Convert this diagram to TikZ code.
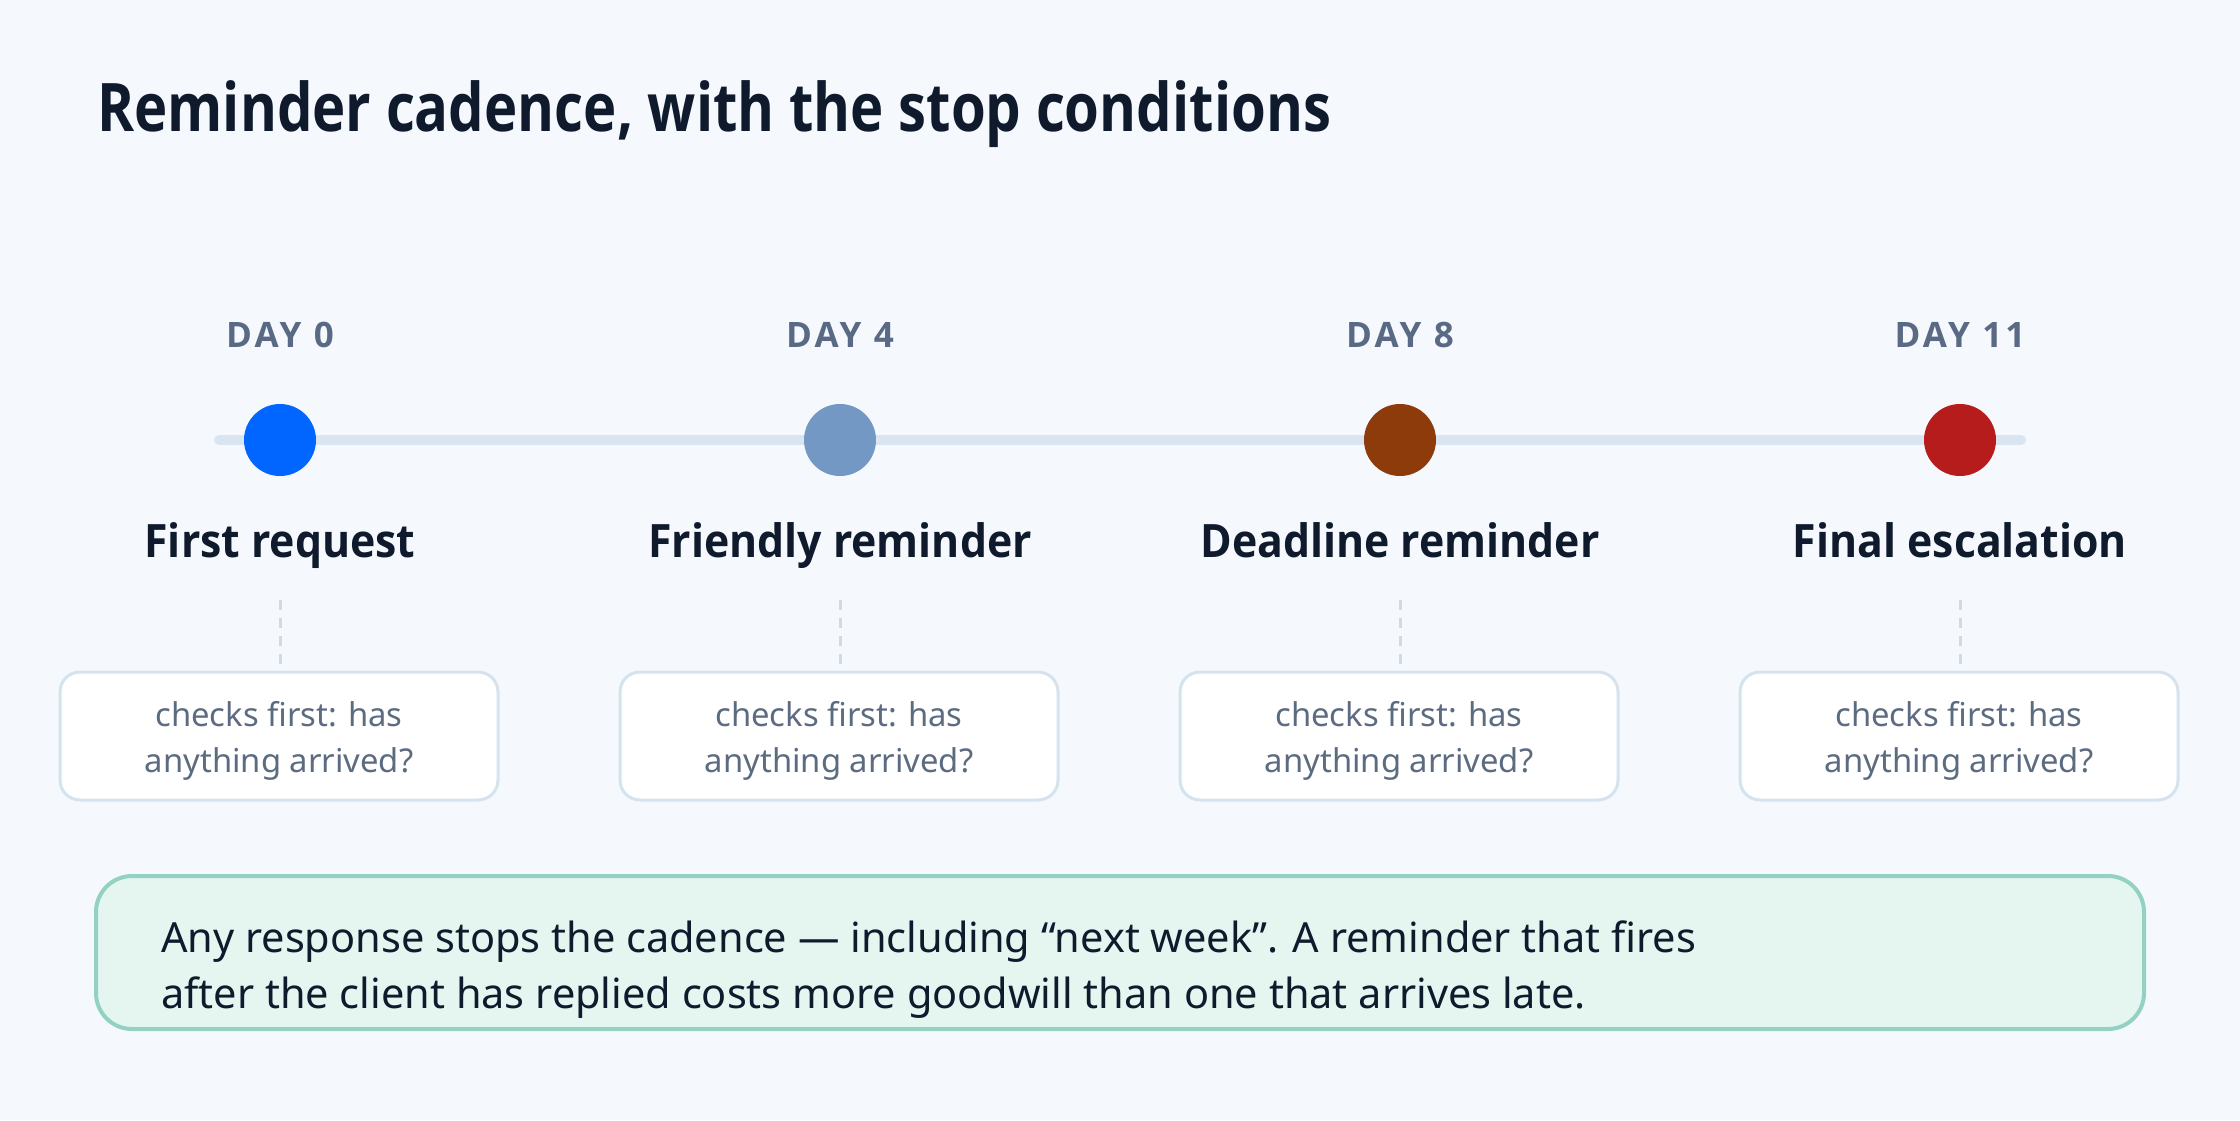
\documentclass[tikz,border=0pt]{standalone}
\usepackage{fontspec}
\setmainfont{Noto Sans}
\newfontfamily\headf{Open Sans}
\definecolor{bg}{HTML}{F5F9FE}
\definecolor{navy}{HTML}{0F1B2D}
\definecolor{daygray}{HTML}{5A6A85}
\definecolor{track}{HTML}{D9E6F2}
\definecolor{cA}{HTML}{0066FF}
\definecolor{cB}{HTML}{7398C4}
\definecolor{cC}{HTML}{8E3B0C}
\definecolor{cD}{HTML}{B71C1C}
\definecolor{boxline}{HTML}{D5E3EE}
\definecolor{boxtext}{HTML}{5B6B80}
\definecolor{dashc}{HTML}{CFDAE6}
\definecolor{tealline}{HTML}{93D2C2}
\definecolor{tealfill}{HTML}{E5F6F1}
\begin{document}
\begin{tikzpicture}[x=1pt,y=-1pt,
  dot/.style={circle,minimum size=72pt,inner sep=0pt},
  daylbl/.style={anchor=base,inner sep=0pt,text=daygray,font=\headf\bfseries\fontsize{35}{42}\selectfont\addfontfeatures{LetterSpace=9}},
  steptitle/.style={anchor=base,inner sep=0pt,text=navy,font=\headf\bfseries\fontsize{46}{55}\selectfont\addfontfeatures{FakeStretch=0.93}},
  checkbox/.style={draw=boxline,line width=3pt,fill=white,rounded corners=20pt,minimum width=438pt,minimum height=128pt,inner sep=0pt},
  checktext/.style={inner sep=0pt,align=center,text=boxtext,font=\fontsize{32.8}{46}\selectfont},
  connector/.style={draw=dashc,line width=3pt,dash pattern=on 10pt off 8pt}
]
\fill[bg] (0,0) rectangle (2240,1120);
\useasboundingbox (0,0) rectangle (2240,1120);

\node[anchor=base west,inner sep=0pt,text=navy,font=\headf\bfseries\fontsize{67}{80}\selectfont\addfontfeatures{FakeStretch=0.84}] (title) at (97,131) {Reminder cadence, with the stop conditions};

\coordinate (tl) at (219,440);
\coordinate (tr) at (2021,440);
\draw[track,line width=10pt,line cap=round] (tl) -- (tr);

\foreach \x/\c/\d/\t [count=\i] in {280/cA/DAY 0/First request, 840/cB/DAY 4/Friendly reminder, 1400/cC/DAY 8/Deadline reminder, 1960/cD/DAY 11/Final escalation}{
  \node[dot,fill=\c] (dot\i) at (\x,440) {};
  \node[daylbl] (day\i) at (\x,347) {\d};
  \node[steptitle] (step\i) at (\x,557) {\t};
  \coordinate (dtop\i) at (\x,600);
  \node[checkbox] (box\i) at (\x-1,736) {};
  \node[checktext] (boxtxt\i) at (\x-1,741) {checks first: has\\anything arrived?};
  \draw[connector] (dtop\i) -- (dtop\i |- box\i.north);
}

\node[draw=tealline,line width=4pt,fill=tealfill,rounded corners=36pt,minimum width=2048pt,minimum height=153pt,inner sep=0pt] (notebox) at (1120,952.5) {};
\node[anchor=north west,inner sep=0pt,align=left,text=navy,font=\fontsize{41.5}{56}\selectfont] (note) at (161,921) {Any response stops the cadence — including “next week”. A reminder that fires\\after the client has replied costs more goodwill than one that arrives late.};
\end{tikzpicture}
\end{document}
